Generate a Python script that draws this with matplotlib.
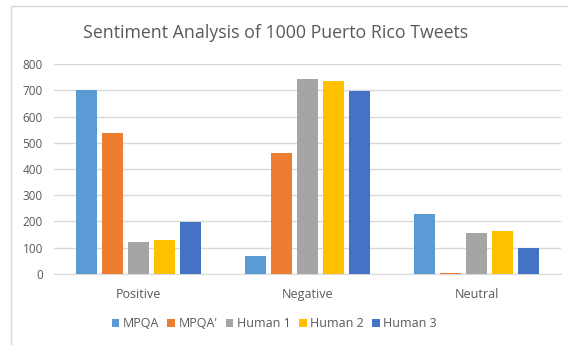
import numpy as np
import matplotlib
matplotlib.use('Agg')
import matplotlib.pyplot as plt
from matplotlib.patches import Rectangle

categories = ['Positive', 'Negative', 'Neutral']
series = ['MPQA', "MPQA'", 'Human 1', 'Human 2', 'Human 3']
mpqa = [700, 69, 228]
mpqa_p = [537, 462, 3]
human1 = [121, 745, 155]
human2 = [128, 736, 164]
human3 = [199, 699, 99]
colors = ['#5B9BD5', '#ED7D31', '#A5A5A5', '#FFC000', '#4472C4']

plt.rcParams['font.family'] = ['Open Sans', 'DejaVu Sans']
txt = '#595959'
grid = '#D9D9D9'

fig = plt.figure(figsize=(5.68, 3.45), dpi=100)
ax = fig.add_axes([0.095, 0.206, 0.893, 0.608])

x = np.arange(len(categories))
w = 0.122
step = 0.154
values = [mpqa, mpqa_p, human1, human2, human3]
for i, (vals, name, c) in enumerate(zip(values, series, colors)):
    ax.bar(x + (i - 2) * step, vals, width=w, color=c, label=name, zorder=3)

ax.set_xlim(-0.5, 2.5)
ax.set_ylim(0, 800)
ax.set_yticks(range(0, 801, 100))
ax.yaxis.grid(True, color=grid, linewidth=1, zorder=0)
for s in ['top', 'right', 'left']:
    ax.spines[s].set_visible(False)
ax.spines['bottom'].set_color(grid)
ax.tick_params(axis='both', length=0, colors=txt, labelsize=8.5)
ax.tick_params(axis='x', pad=10, labelsize=9)
ax.tick_params(axis='y', pad=8)
ax.set_xticks(x)
ax.set_xticklabels(categories)

fig.text(0.485, 0.905, 'Sentiment Analysis of 1000 Puerto Rico Tweets',
         ha='center', va='center', fontsize=12.8, color=txt)

leg = fig.legend(loc='center', bbox_to_anchor=(0.483, 0.062), ncol=5, frameon=False,
                 fontsize=9, handlelength=0.6, handleheight=0.6,
                 handletextpad=0.3, columnspacing=0.65)
for t in leg.get_texts():
    t.set_color(txt)

fig.patches.append(Rectangle((11 / 568, -0.1), 1.1, 1 - 6 / 345 + 0.1,
                             transform=fig.transFigure, fill=False,
                             edgecolor=grid, linewidth=1))

fig.savefig('out.png', dpi=100)
